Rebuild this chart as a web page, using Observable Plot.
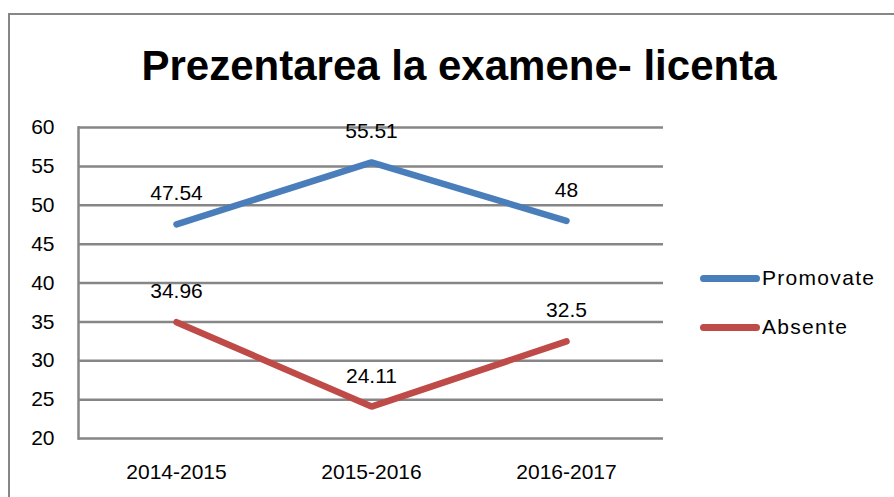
<!DOCTYPE html>
<html>
<head>
<meta charset="utf-8">
<script src="https://cdn.jsdelivr.net/npm/d3@7"></script>
<script src="https://cdn.jsdelivr.net/npm/@observablehq/plot@0.6"></script>
<style>
  html, body { margin: 0; padding: 0; background: #fff; }
  #chart { position: relative; width: 894px; height: 497px; overflow: hidden; background: #fff; }
  #frame { position: absolute; left: 8px; top: 13px; width: 900px; height: 500px; border-left: 2px solid #868686; border-top: 2px solid #868686; box-sizing: border-box; }
  #title { position: absolute; left: 0; width: 918px; top: 45px; text-align: center; font-family: "Liberation Sans", sans-serif; font-weight: bold; font-size: 42px; color: #000; line-height: 1; white-space: nowrap; }
  #plot { position: absolute; left: 0; top: 0; }
  .legend-item { position: absolute; left: 700px; height: 24px; display: flex; align-items: center; font-family: "Liberation Sans", sans-serif; font-size: 21px; letter-spacing: 1.3px; color: #000; }
  .swatch { width: 60px; height: 7px; border-radius: 4px; margin-right: 2px; }
</style>
</head>
<body>
<div id="chart">
  <div id="frame"></div>
  <div id="title"></div>
  <div id="plot"></div>
  <div id="legend"></div>
</div>
<script>
const titleText = "Prezentarea la examene- licenta";
const years = ["2014-2015", "2015-2016", "2016-2017"];
const seriesNames = ["Promovate", "Absente"];
const promovate = [47.54, 55.51, 48];
const absente = [34.96, 24.11, 32.5];
const seriesColors = ["#4a7ebb", "#be4b48"];
const yTicks = [20, 25, 30, 35, 40, 45, 50, 55, 60];

const seriesValues = [promovate, absente];
const rows = [];
seriesNames.forEach((name, si) => {
  years.forEach((yr, i) => rows.push({series: name, year: yr, value: seriesValues[si][i]}));
});

document.getElementById("title").textContent = titleText;

const fontFam = '"Liberation Sans", sans-serif';
const txtStyle = "letter-spacing:1.3px";

const plot = Plot.plot({
  width: 894,
  height: 497,
  marginLeft: 78,
  marginRight: 231,
  marginTop: 127,
  marginBottom: 59,
  style: {background: "transparent", fontFamily: fontFam, fontSize: "21px", color: "#000", overflow: "visible"},
  x: {type: "point", domain: years, padding: 0.5},
  y: {domain: [20, 60]},
  color: {domain: seriesNames, range: seriesColors},
  marks: [
    Plot.gridY(yTicks, {stroke: "#868686", strokeOpacity: 1, strokeWidth: 2.5}),
    Plot.frame({anchor: "left", stroke: "#868686", strokeWidth: 2.5}),
    Plot.axisY(yTicks, {tickSize: 0, tickPadding: 24, label: null, fontSize: 21, fill: "#000", style: "letter-spacing:0.8px"}),
    Plot.axisX({tickSize: 0, tickPadding: 26, label: null, fontSize: 21, fill: "#000", style: txtStyle}),
    Plot.line(rows, {x: "year", y: "value", z: "series", stroke: "series", strokeWidth: 6.5, strokeLinecap: "round", strokeLinejoin: "miter"}),
    Plot.text(rows, {x: "year", y: "value", text: d => String(d.value), lineAnchor: "bottom", dy: -24, fontSize: 21, fill: "#000", style: txtStyle})
  ]
});
document.getElementById("plot").appendChild(plot);

const legend = document.getElementById("legend");
const legendTops = [266, 315];
seriesNames.forEach((name, i) => {
  const item = document.createElement("div");
  item.className = "legend-item";
  item.style.top = legendTops[i] + "px";
  const sw = document.createElement("div");
  sw.className = "swatch";
  sw.style.background = seriesColors[i];
  const lbl = document.createElement("span");
  lbl.textContent = name;
  item.appendChild(sw);
  item.appendChild(lbl);
  legend.appendChild(item);
});
</script>
</body>
</html>
